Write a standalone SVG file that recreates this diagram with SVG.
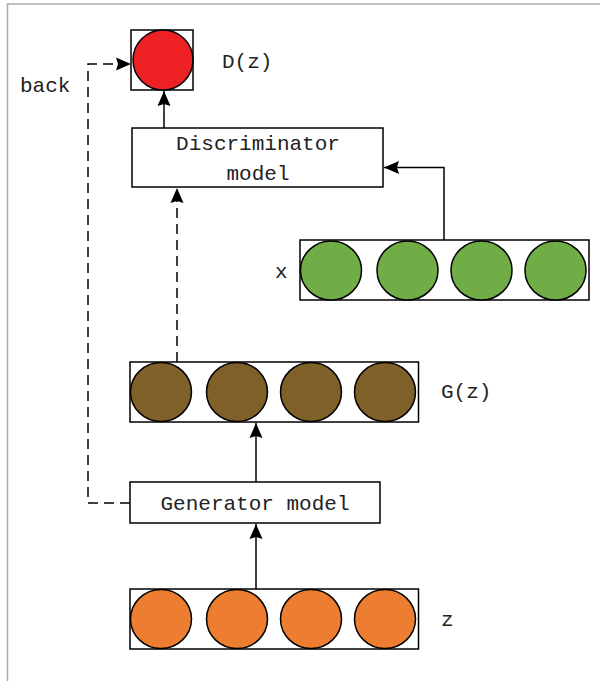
<svg xmlns="http://www.w3.org/2000/svg" width="600" height="681" viewBox="0 0 600 681">
<defs>
<marker id="arr" markerWidth="16" markerHeight="14" refX="15" refY="7" orient="auto" markerUnits="userSpaceOnUse">
<path d="M0,0.5 L15,7 L0,13.5 L2,7 Z" fill="#000"/>
</marker>
<style>
.box{fill:#fff;stroke:#000;stroke-width:1.5}
.c{stroke:#000;stroke-width:1.5}
.red{fill:#ed2024}
.green{fill:#70ad47}
.brown{fill:#7f6029}
.orange{fill:#ed7d31}
.t{font-family:"Liberation Mono","DejaVu Sans Mono",monospace;font-size:21px;fill:#222}
.ln{fill:none;stroke:#000;stroke-width:1.5}
.dash{fill:none;stroke:#000;stroke-width:1.5;stroke-dasharray:10,6}
</style>
</defs>
<rect x="0" y="0" width="600" height="681" fill="#fff"/>
<rect x="7.5" y="4" width="600" height="690" fill="none" stroke="#aaa" stroke-width="1.5"/>

<g id="connectors">
<line class="ln" x1="164" y1="128" x2="164" y2="91" marker-end="url(#arr)"/>
<polyline class="ln" points="444,240 444,167.5 384,167.5" marker-end="url(#arr)"/>
<line class="dash" x1="177" y1="362" x2="177" y2="188" marker-end="url(#arr)"/>
<line class="ln" x1="256" y1="482" x2="256" y2="423" marker-end="url(#arr)"/>
<line class="ln" x1="256" y1="589" x2="256" y2="524" marker-end="url(#arr)"/>
<polyline class="dash" points="130,503 88,503 88,64 131,64" marker-end="url(#arr)"/>
</g>

<g id="dz">
<rect class="box" x="131" y="30" width="62" height="60"/>
<ellipse class="c red" cx="163" cy="60" rx="30" ry="30"/>
<text class="t" x="222" y="68">D(z)</text>
</g>

<g id="discriminator">
<rect class="box" x="132" y="128" width="251" height="59"/>
<text class="t" x="258" y="150" text-anchor="middle">Discriminator</text>
<text class="t" x="258" y="180" text-anchor="middle">model</text>
</g>

<g id="x-row">
<rect class="box" x="300" y="240" width="289" height="60"/>
<ellipse class="c green" cx="331" cy="270.5" rx="30.5" ry="29.5"/>
<ellipse class="c green" cx="407.5" cy="270.5" rx="30.5" ry="29.5"/>
<ellipse class="c green" cx="481.5" cy="270.5" rx="30.5" ry="29.5"/>
<ellipse class="c green" cx="555.5" cy="270.5" rx="30.5" ry="29.5"/>
<text class="t" x="275" y="278">x</text>
</g>

<g id="gz-row">
<rect class="box" x="130" y="362" width="288.5" height="60"/>
<ellipse class="c brown" cx="161" cy="392" rx="30.5" ry="29.5"/>
<ellipse class="c brown" cx="237" cy="392" rx="30.5" ry="29.5"/>
<ellipse class="c brown" cx="311" cy="392" rx="30.5" ry="29.5"/>
<ellipse class="c brown" cx="385" cy="392" rx="30.5" ry="29.5"/>
<text class="t" x="441" y="398">G(z)</text>
</g>

<g id="generator">
<rect class="box" x="130" y="482" width="250" height="41"/>
<text class="t" x="255" y="510" text-anchor="middle">Generator model</text>
</g>

<g id="z-row">
<rect class="box" x="130" y="589" width="288.5" height="60"/>
<ellipse class="c orange" cx="161" cy="619" rx="30.5" ry="29.5"/>
<ellipse class="c orange" cx="237" cy="619" rx="30.5" ry="29.5"/>
<ellipse class="c orange" cx="311" cy="619" rx="30.5" ry="29.5"/>
<ellipse class="c orange" cx="385" cy="619" rx="30.5" ry="29.5"/>
<text class="t" x="441" y="626">z</text>
</g>

<g id="back-label">
<text class="t" x="20" y="92">back</text>
</g>
</svg>
